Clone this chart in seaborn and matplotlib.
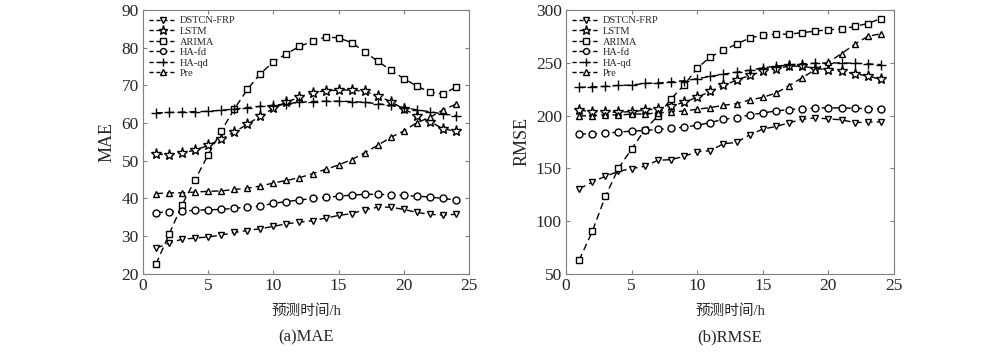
import matplotlib.pyplot as plt
import seaborn as sns
from matplotlib.lines import Line2D

hours = list(range(1, 25))
models = ["DSTCN-FRP", "LSTM", "ARIMA", "HA-fd", "HA-qd", "Pre"]

mae_dstcn = [26.8, 28.2, 29.2, 29.5, 29.8, 30.3, 31.0, 31.5, 32.0, 32.6, 33.3, 33.7,
             34.1, 34.8, 35.5, 36.0, 37.0, 37.7, 37.7, 37.1, 36.3, 35.8, 35.6, 35.8]
mae_lstm = [51.8, 51.6, 52.1, 52.8, 54.1, 55.7, 57.6, 59.7, 61.8, 63.9, 65.5, 66.9,
            68.0, 68.6, 68.7, 68.8, 68.4, 67.2, 65.7, 63.7, 62.0, 60.4, 58.5, 57.8]
mae_arima = [22.6, 30.5, 38.3, 45.0, 51.6, 57.9, 63.7, 68.9, 73.1, 76.2, 78.4, 80.3,
             81.7, 82.8, 82.6, 81.3, 78.9, 76.4, 74.0, 71.8, 69.8, 68.2, 67.7, 69.5]
mae_hafd = [36.2, 36.5, 36.6, 36.9, 37.0, 37.1, 37.4, 37.7, 38.0, 38.7, 39.2, 39.6,
            40.0, 40.3, 40.6, 40.9, 41.1, 41.1, 41.0, 40.8, 40.6, 40.4, 40.0, 39.6]
mae_haqd = [62.7, 62.8, 62.9, 63.0, 63.1, 63.4, 63.7, 64.1, 64.4, 64.7, 65.1, 65.5,
            65.7, 65.8, 65.8, 65.7, 65.5, 65.1, 64.7, 64.1, 63.5, 63.0, 62.4, 62.0]
mae_pre = [41.3, 41.5, 41.5, 41.7, 41.9, 42.0, 42.4, 42.7, 43.3, 44.1, 44.8, 45.5,
           46.6, 47.7, 48.9, 50.3, 52.1, 54.1, 56.2, 57.9, 60.1, 61.5, 63.5, 65.0]

rmse_dstcn = [130.6, 136.9, 142.5, 147.0, 149.8, 151.9, 157.6, 158.2, 161.4, 165.7, 166.7, 173.3,
              174.5, 181.7, 187.1, 189.6, 193.0, 196.5, 197.7, 196.8, 195.9, 193.3, 193.7, 194.0]
rmse_lstm = [205.0, 203.7, 203.4, 203.1, 203.7, 205.0, 206.5, 209.0, 212.5, 217.2, 222.8, 228.5,
             233.5, 237.9, 242.0, 244.5, 246.7, 246.7, 244.5, 243.5, 241.7, 239.5, 237.6, 234.1]
rmse_arima = [62.9, 90.2, 123.4, 150.0, 168.3, 186.4, 199.6, 215.6, 228.8, 244.8, 255.5, 261.7,
              267.7, 273.3, 276.2, 276.8, 277.1, 278.4, 279.9, 281.2, 281.8, 284.3, 287.1, 291.8]
rmse_hafd = [182.4, 182.7, 183.3, 184.3, 185.2, 185.8, 186.8, 187.7, 189.0, 190.8, 193.3, 196.5,
             197.7, 200.6, 202.4, 204.3, 205.6, 206.5, 207.2, 207.2, 207.2, 206.8, 206.5, 206.2]
rmse_haqd = [226.6, 227.2, 227.5, 228.5, 228.8, 230.4, 230.7, 231.9, 232.9, 234.8, 237.0, 239.1,
             241.0, 242.9, 245.1, 246.7, 247.9, 248.9, 249.5, 249.8, 249.8, 249.5, 248.9, 248.2]
rmse_pre = [199.6, 199.9, 200.6, 200.6, 201.2, 201.5, 202.4, 203.4, 204.3, 205.9, 207.5, 209.7,
            211.2, 214.7, 217.2, 221.3, 228.2, 235.7, 243.5, 250.4, 258.6, 267.4, 274.9, 277.4]

mae_vals = [mae_dstcn, mae_lstm, mae_arima, mae_hafd, mae_haqd, mae_pre]
rmse_vals = [rmse_dstcn, rmse_lstm, rmse_arima, rmse_hafd, rmse_haqd, rmse_pre]

sns.set_style("ticks", {"xtick.direction": "in", "ytick.direction": "in",
                        "axes.edgecolor": "#7f7f7f"})
plt.rcParams["font.family"] = ["Liberation Serif", "Noto Sans CJK SC"]

markers = {"DSTCN-FRP": "v", "LSTM": "*", "ARIMA": "s", "HA-fd": "o", "HA-qd": "+", "Pre": "^"}
msizes = {"DSTCN-FRP": 5, "LSTM": 8, "ARIMA": 5, "HA-fd": 5, "HA-qd": 7, "Pre": 4.5}

fig = plt.figure(figsize=(10, 3.53), dpi=100)
ax1 = fig.add_axes([0.143, 0.224, 0.326, 0.748])
ax2 = fig.add_axes([0.566, 0.224, 0.328, 0.748])

panels = [(ax1, mae_vals, "MAE", (20, 90), range(20, 91, 10), "(a)MAE"),
          (ax2, rmse_vals, "RMSE", (50, 300), range(50, 301, 50), "(b)RMSE")]

for ax, vals, ylab, ylim, yticks, cap in panels:
    for m, v in zip(models, vals):
        sns.lineplot(x=hours, y=v, color="black", linewidth=1, dashes=False,
                     marker=markers[m], markersize=msizes[m],
                     markerfacecolor="white", markeredgecolor="black",
                     markeredgewidth=1, ax=ax)
        ax.lines[-1].set_linestyle((0, (5, 3)))
    ax.set_xlim(0, 25)
    ax.set_ylim(*ylim)
    ax.set_xticks(range(0, 26, 5))
    ax.set_yticks(list(yticks))
    ax.tick_params(top=True, right=True, labelsize=12.5, length=3, color="#7f7f7f", pad=3)
    for s in ax.spines.values():
        s.set_visible(True)
        s.set_color("#7f7f7f")
    ax.set_ylabel(ylab, fontsize=13)
    ax.set_xlabel("预测时间/h", fontsize=10.5, labelpad=7)
    handles = [Line2D([], [], color="black", linestyle=(0, (3, 2)), linewidth=1,
                      marker=markers[m], markersize=msizes[m] * 0.85,
                      markerfacecolor="white", markeredgecolor="black")
               for m in models]
    ax.legend(handles, models, loc="upper left", frameon=False, fontsize=7.5,
              handlelength=2.6, handletextpad=0.3, labelspacing=0.12,
              borderaxespad=0.3, borderpad=0.3)
    bb = ax.get_position()
    fig.text((bb.x0 + bb.x1) / 2, 0.045, cap, ha="center", va="center", fontsize=12)

fig.savefig("out.png", dpi=100)
